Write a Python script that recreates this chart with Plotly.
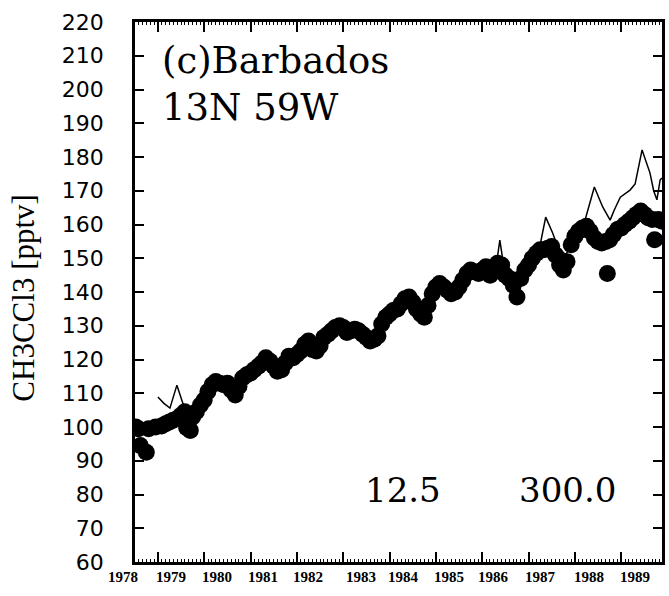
import plotly.graph_objects as go

# Observations (thick dots): decimal year, CH3CCl3 [pptv]
obs_year = [1978.52, 1978.58, 1978.62, 1978.75, 1978.80, 1978.95, 1979.08, 1979.17, 1979.25, 1979.33,
            1979.42, 1979.50, 1979.58, 1979.62, 1979.70, 1979.75, 1979.83, 1979.92, 1980.00, 1980.08,
            1980.17, 1980.25, 1980.33, 1980.42, 1980.50, 1980.58, 1980.67, 1980.75, 1980.83, 1980.92,
            1981.00, 1981.08, 1981.17, 1981.25, 1981.33, 1981.42, 1981.50, 1981.58, 1981.67, 1981.75,
            1981.83, 1981.92, 1982.00, 1982.08, 1982.17, 1982.25, 1982.33, 1982.42, 1982.50, 1982.58,
            1982.67, 1982.75, 1982.83, 1982.92, 1983.00, 1983.08, 1983.17, 1983.25, 1983.33, 1983.42,
            1983.50, 1983.58, 1983.67, 1983.75, 1983.83, 1983.92, 1984.00, 1984.08, 1984.17, 1984.25,
            1984.33, 1984.42, 1984.50, 1984.58, 1984.67, 1984.75, 1984.83, 1984.92, 1985.00, 1985.08,
            1985.17, 1985.25, 1985.33, 1985.42, 1985.50, 1985.58, 1985.67, 1985.75, 1985.83, 1985.92,
            1986.00, 1986.08, 1986.17, 1986.25, 1986.33, 1986.42, 1986.50, 1986.58, 1986.67, 1986.75,
            1986.83, 1986.92, 1987.00, 1987.08, 1987.17, 1987.25, 1987.33, 1987.42, 1987.50, 1987.58,
            1987.67, 1987.75, 1987.83, 1987.92, 1988.00, 1988.08, 1988.17, 1988.25, 1988.33, 1988.42,
            1988.50, 1988.58, 1988.67, 1988.70, 1988.75, 1988.83, 1988.92, 1989.00, 1989.08, 1989.17,
            1989.25, 1989.33, 1989.42, 1989.50, 1989.58, 1989.67, 1989.72, 1989.80, 1989.88]
obs_value = [100.0, 99.5, 94.5, 92.5, 99.5, 100.0, 100.3, 101.0, 101.5, 102.0,
             102.5, 103.5, 104.5, 99.8, 99.0, 103.0, 104.5, 106.5, 108.0, 110.5,
             112.5, 113.5, 113.0, 112.5, 113.0, 111.0, 109.5, 112.0, 114.5, 115.5,
             116.0, 117.0, 118.0, 119.0, 120.5, 119.5, 118.0, 116.5, 117.0, 119.0,
             121.0, 120.5, 121.5, 122.5, 124.5, 125.5, 123.0, 122.5, 124.0, 126.5,
             127.5, 128.5, 129.5, 130.0, 129.5, 128.0, 128.5, 129.0, 128.5, 127.5,
             126.5, 125.5, 126.0, 127.0, 130.5, 132.5, 133.5, 134.5, 135.0, 136.5,
             138.0, 138.5, 137.0, 135.0, 133.5, 132.5, 136.0, 139.5, 141.5, 142.5,
             141.5, 140.5, 139.5, 140.0, 141.5, 143.5, 145.5, 146.5, 146.0, 145.5,
             146.5, 147.5, 145.0, 147.0, 148.5, 148.0, 145.0, 144.0, 142.0, 138.5,
             144.0, 146.5, 148.0, 150.0, 151.5, 152.5, 152.5, 153.0, 153.5, 151.0,
             148.0, 146.5, 149.0, 154.0, 156.5, 158.0, 159.0, 159.5, 158.0, 156.0,
             155.0, 154.5, 155.0, 145.5, 155.5, 157.0, 158.5, 159.0, 160.0, 161.0,
             162.0, 163.0, 164.0, 163.0, 162.0, 161.5, 155.5, 161.5, 161.0]

# Thin line series
line_year = [1979.00, 1979.13, 1979.26, 1979.41, 1979.54, 1979.67, 1979.83, 1980.00, 1980.25, 1980.50,
             1980.75, 1981.00, 1981.25, 1981.50, 1981.75, 1982.00, 1982.25, 1982.50, 1982.75, 1983.00,
             1983.25, 1983.50, 1983.75, 1984.00, 1984.25, 1984.50, 1984.75, 1985.00, 1985.25, 1985.50,
             1985.75, 1986.00, 1986.20, 1986.33, 1986.38, 1986.45, 1986.60, 1986.85, 1987.00, 1987.15,
             1987.24, 1987.37, 1987.52, 1987.63, 1987.80, 1987.95, 1988.10, 1988.20, 1988.42, 1988.60,
             1988.76, 1988.85, 1988.98, 1989.19, 1989.30, 1989.45, 1989.62, 1989.70, 1989.77, 1989.84,
             1989.88]
line_value = [108.9, 107.0, 105.6, 112.4, 107.0, 104.0, 104.5, 108.0, 113.0, 113.0,
              112.0, 116.0, 119.0, 118.5, 119.0, 121.5, 124.5, 124.5, 128.0, 129.0,
              128.5, 127.0, 127.5, 133.0, 136.0, 137.0, 134.0, 141.0, 141.0, 141.5,
              146.0, 146.5, 148.0, 150.5, 155.4, 149.0, 146.0, 145.5, 148.5, 151.5,
              153.3, 162.2, 157.5, 153.3, 151.0, 154.5, 157.5, 160.4, 171.1, 165.2,
              161.3, 164.3, 168.1, 170.2, 172.0, 182.1, 175.3, 170.0, 167.3, 173.2,
              173.8]

year_labels = ["1978", "1979", "1980", "1981", "1982", "1983", "1984", "1985", "1986", "1987", "1988", "1989"]
year_label_pos = [1978.25, 1979.29, 1980.27, 1981.26, 1982.25, 1983.38, 1984.30, 1985.29, 1986.25, 1987.25, 1988.30, 1989.29]
y_ticks = list(range(60, 221, 10))
x_range = [1978.506, 1989.88]

fig = go.Figure()
fig.add_trace(go.Scatter(x=line_year, y=line_value, mode="lines",
                         line=dict(color="black", width=1.5), showlegend=False, hoverinfo="skip"))
fig.add_trace(go.Scatter(x=obs_year, y=obs_value, mode="markers",
                         marker=dict(color="black", size=17, line=dict(width=0)),
                         showlegend=False, cliponaxis=True))

serif = "Liberation Serif"
dserif = "DejaVu Serif"
fig.update_layout(
    width=669, height=596,
    margin=dict(l=135, r=4, t=22, b=34),
    paper_bgcolor="white", plot_bgcolor="white",
    xaxis=dict(range=x_range, tickmode="linear", tick0=1979, dtick=1,
               ticks="inside", ticklen=10, tickwidth=1.5, tickcolor="black",
               showticklabels=False, showgrid=False, zeroline=False,
               showline=True, linecolor="black", linewidth=2.5, mirror="allticks",
               minor=dict(dtick=1/12, tick0=1979, ticks="inside", ticklen=3, tickcolor="black", tickwidth=1)),
    yaxis=dict(range=[60, 220], tickvals=y_ticks, ticks="inside", ticklen=9, tickwidth=1.5,
               tickcolor="black", showgrid=False, zeroline=False,
               showline=True, linecolor="black", linewidth=2.5, mirror="allticks",
               tickfont=dict(family="DejaVu Sans", size=22, color="black"),
               ticklabelstandoff=24),
)

annotations = []
for lab, pos in zip(year_labels, year_label_pos):
    annotations.append(dict(x=(pos - x_range[0]) / (x_range[1] - x_range[0]), y=-0.028,
                            xref="paper", yref="paper", text="<b>" + lab + "</b>",
                            showarrow=False, xanchor="center", yanchor="middle",
                            font=dict(family=serif, size=15, color="black")))
annotations += [
    dict(x=(22 - 135) / 530, y=(562 - 298) / 540, xref="paper", yref="paper", text="CH3CCl3 [pptv]",
         textangle=-90, showarrow=False, xanchor="center", yanchor="middle",
         font=dict(family=serif, size=31, color="black")),
    dict(x=(160 - 135) / 530, y=(562 - 61) / 540, xref="paper", yref="paper", text="(c)Barbados",
         showarrow=False, xanchor="left", yanchor="middle", font=dict(family=dserif, size=37, color="black")),
    dict(x=(160 - 135) / 530, y=(562 - 107) / 540, xref="paper", yref="paper", text="13N 59W",
         showarrow=False, xanchor="left", yanchor="middle", font=dict(family=dserif, size=37, color="black")),
    dict(x=(405 - 135) / 530, y=(562 - 490) / 540, xref="paper", yref="paper", text="12.5",
         showarrow=False, xanchor="center", yanchor="middle", font=dict(family=dserif, size=34, color="black")),
    dict(x=(570 - 135) / 530, y=(562 - 490) / 540, xref="paper", yref="paper", text="300.0",
         showarrow=False, xanchor="center", yanchor="middle", font=dict(family=dserif, size=34, color="black")),
]
fig.update_layout(annotations=annotations)

fig.write_html("out.html")
